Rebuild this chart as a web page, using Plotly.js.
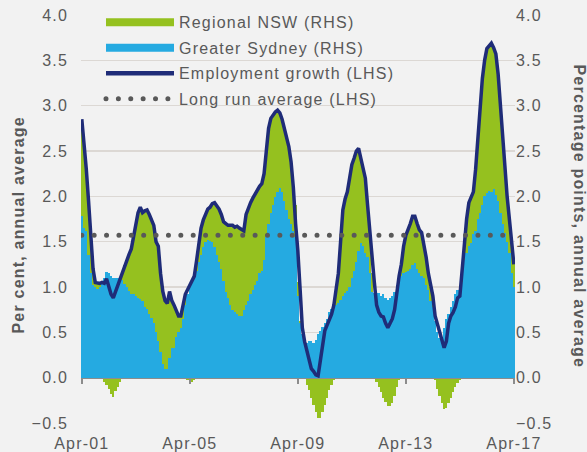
<!DOCTYPE html>
<html><head><meta charset="utf-8">
<script src="https://cdn.plot.ly/plotly-3.0.1.min.js"></script>
<style>
html,body{margin:0;padding:0;background:#f2f2f2;}
#chart{width:587px;height:452px;}
text{letter-spacing:1.2px;}
</style></head><body><div id="chart"></div>
<script>
// Monthly series, Apr-2001 .. Apr-2017
const sydney = [
1.78,1.65,1.62,1.35,1.15,1.02,1.00,0.98,1.00,1.07,1.10,1.17,1.15,1.12,1.10,1.10,1.10,1.10,1.08,1.03,
1.00,0.96,0.92,0.92,0.90,0.88,0.87,0.85,0.78,0.76,0.70,0.66,0.60,0.50,0.40,0.28,0.15,0.10,0.10,0.22,
0.33,0.33,0.45,0.50,0.55,0.65,0.80,0.92,1.00,1.05,1.10,1.18,1.28,1.35,1.44,1.50,1.52,1.51,1.50,1.44,
1.35,1.28,1.20,1.07,0.95,0.88,0.80,0.75,0.72,0.70,0.68,0.68,0.75,0.80,0.85,0.92,0.97,1.02,1.07,1.15,
1.18,1.30,1.55,1.70,1.82,1.90,1.99,2.05,2.09,2.05,1.95,1.85,1.75,1.70,1.62,1.55,0.90,0.60,0.48,0.42,
0.38,0.40,0.40,0.38,0.42,0.48,0.52,0.56,0.60,0.65,0.72,0.76,0.78,0.80,0.82,0.86,0.90,0.93,0.96,1.00,
1.10,1.18,1.28,1.40,1.48,1.45,1.38,1.33,1.15,0.95,0.93,0.93,0.93,0.90,0.92,0.88,0.86,0.88,0.90,0.95,
1.02,1.08,1.12,1.15,1.16,1.18,1.20,1.24,1.26,1.20,1.15,1.12,1.10,1.02,0.97,0.85,0.78,0.62,0.50,0.44,
0.45,0.55,0.65,0.70,0.78,0.85,0.92,0.97,0.95,1.05,1.30,1.38,1.45,1.48,1.58,1.62,1.75,1.82,1.90,2.00,
2.04,2.06,2.05,2.08,2.02,1.95,1.82,1.70,1.60,1.50,1.38,1.15,1.00
];
const regional = [
1.04,0.95,0.68,0.60,0.40,0.18,0.05,0.06,0.04,-0.02,-0.05,-0.08,-0.12,-0.18,-0.21,-0.15,-0.10,-0.05,0.08,0.21,
0.30,0.40,0.50,0.63,0.80,0.94,1.01,0.97,1.06,1.09,1.10,1.09,1.08,1.00,1.05,0.87,0.80,0.75,0.72,0.73,
0.52,0.47,0.30,0.18,0.13,0.15,0.10,-0.03,-0.05,-0.05,-0.03,0.08,0.22,0.30,0.30,0.30,0.34,0.37,0.42,0.49,
0.55,0.58,0.60,0.65,0.75,0.80,0.88,0.93,0.94,0.97,0.97,0.95,0.87,1.00,1.02,1.01,1.01,1.01,1.00,0.96,
0.96,0.95,0.95,1.05,1.04,1.00,0.94,0.90,0.83,0.80,0.80,0.80,0.80,0.68,0.48,0.35,0.15,0.02,0.00,-0.02,
-0.08,-0.14,-0.22,-0.30,-0.38,-0.44,-0.44,-0.38,-0.30,-0.22,-0.14,-0.08,-0.03,0.20,0.33,0.64,0.95,1.04,1.09,1.20,
1.25,1.24,1.22,1.13,0.94,0.85,0.82,0.57,0.40,0.20,0.00,-0.05,-0.10,-0.16,-0.22,-0.27,-0.31,-0.31,-0.28,-0.20,
-0.10,-0.03,0.13,0.30,0.41,0.45,0.50,0.54,0.52,0.50,0.48,0.48,0.38,0.31,0.18,0.15,0.10,-0.03,-0.12,-0.20,
-0.28,-0.35,-0.33,-0.28,-0.22,-0.16,-0.10,-0.06,-0.03,0.05,0.20,0.37,0.48,0.50,0.47,0.68,0.90,1.23,1.40,1.50,
1.59,1.60,1.64,1.56,1.55,1.40,1.18,1.00,0.76,0.50,0.37,0.35,0.25
];
const employment = [
2.85,2.60,2.30,1.95,1.55,1.20,1.05,1.04,1.04,1.05,1.04,1.09,1.00,0.92,0.88,0.95,1.02,1.10,1.16,1.24,
1.30,1.36,1.42,1.55,1.70,1.82,1.88,1.82,1.84,1.85,1.80,1.75,1.68,1.50,1.45,1.15,0.95,0.85,0.82,0.95,
0.85,0.80,0.75,0.68,0.68,0.80,0.92,0.97,1.02,1.05,1.12,1.29,1.50,1.65,1.74,1.80,1.86,1.88,1.92,1.93,
1.90,1.86,1.80,1.72,1.70,1.68,1.68,1.68,1.66,1.67,1.65,1.63,1.62,1.80,1.87,1.93,1.98,2.03,2.07,2.11,
2.14,2.25,2.50,2.75,2.86,2.90,2.93,2.95,2.92,2.85,2.75,2.65,2.55,2.38,2.10,1.70,1.40,0.98,0.55,0.40,
0.30,0.20,0.10,0.07,0.03,0.02,0.20,0.40,0.52,0.58,0.65,0.70,0.80,1.00,1.15,1.50,1.85,1.97,2.05,2.20,
2.35,2.42,2.50,2.53,2.42,2.30,2.20,1.90,1.59,1.35,1.05,0.80,0.72,0.68,0.67,0.60,0.55,0.60,0.65,0.75,
0.95,1.12,1.25,1.45,1.57,1.63,1.70,1.78,1.78,1.70,1.63,1.60,1.48,1.33,1.15,1.00,0.90,0.68,0.60,0.52,
0.42,0.33,0.40,0.60,0.68,0.72,0.78,0.88,0.90,1.20,1.50,1.75,1.93,1.98,2.05,2.30,2.65,3.05,3.30,3.50,
3.63,3.66,3.69,3.64,3.57,3.35,3.00,2.70,2.36,2.00,1.75,1.50,1.25
];
const longRunAverage = 1.57;
const tickLabels = ['Apr-01','Apr-05','Apr-09','Apr-13','Apr-17'];
const tickMonthIndex = [0,48,96,144,192];
const leftTitle = 'Per cent, annual average';
const rightTitle = 'Percentage points, annual average';

const monthIndex = sydney.map((_, i) => i);
const lastIndex = monthIndex[monthIndex.length - 1];

const GREEN = '#95c11f', BLUE = '#25aae1', NAVY = '#1f2c78', DOTS = '#595959';
const TXT = '#595959', FONT = 'Liberation Sans, Arial, sans-serif';

const traces = [
  {type:'bar', x:monthIndex, y:sydney, marker:{color:BLUE, line:{width:0}}, showlegend:false, hoverinfo:'skip'},
  {type:'bar', x:monthIndex, y:regional, marker:{color:GREEN, line:{width:0}}, showlegend:false, hoverinfo:'skip'},
  {type:'scatter', mode:'lines', x:monthIndex, y:employment, line:{color:NAVY, width:3.5}, showlegend:false, hoverinfo:'skip'},
  {type:'scatter', mode:'lines', x:[null], y:[null], name:'Regional NSW (RHS)', line:{color:GREEN, width:8}, legendgroup:'a'},
  {type:'scatter', mode:'lines', x:[null], y:[null], name:'Greater Sydney (RHS)', line:{color:BLUE, width:8}, legendgroup:'b'},
  {type:'scatter', mode:'lines', x:[null], y:[null], name:'Employment growth (LHS)', line:{color:NAVY, width:4.5}, legendgroup:'c'},
  {type:'scatter', mode:'lines', x:[monthIndex[0], lastIndex], y:[longRunAverage, longRunAverage], xaxis:'x2', yaxis:'y2',
   name:'Long run average (LHS)', line:{color:DOTS, width:5, dash:'0px,12.38px'}, legendgroup:'d', hoverinfo:'skip'}
];

const xr = [-0.35, 192.5], yr = [-0.5, 4.0];
const titleFont = {family:FONT, size:16, color:TXT, weight:'bold'};
const layout = {
  width:587, height:452,
  paper_bgcolor:'#f2f2f2', plot_bgcolor:'#f2f2f2',
  margin:{l:81, r:72, t:15, b:29},
  barmode:'relative', bargap:0,
  font:{family:FONT, size:16, color:TXT},
  showlegend:true,
  legend:{x:0.046, y:0.99, xanchor:'left', yanchor:'top', bgcolor:'rgba(0,0,0,0)',
          font:{family:FONT, size:16, color:TXT}, itemwidth:68, tracegroupgap:1.7},
  xaxis:{range:xr, tickmode:'array', tickvals:tickMonthIndex, ticktext:tickLabels,
         ticks:'', showgrid:false, zeroline:false, showline:false, ticklabelstandoff:9,
         tickfont:{family:FONT, size:16, color:TXT}, fixedrange:true},
  xaxis2:{range:xr, overlaying:'x', anchor:'free', position:0.5/4.5, tickmode:'array', tickvals:tickMonthIndex,
          ticks:'outside', ticklen:5, tickwidth:1.5, tickcolor:'#8c8c8c', showticklabels:false,
          showline:true, linecolor:'#8c8c8c', linewidth:1.5, showgrid:false, zeroline:false, fixedrange:true},
  yaxis:{range:yr, dtick:0.5, tick0:0, tickformat:'.1f', ticks:'', showgrid:true, gridcolor:'#dcd8d4', gridwidth:1.3,
         zeroline:false, showline:false, ticklabelstandoff:12, fixedrange:true},
  yaxis2:{range:yr, dtick:0.5, tick0:0, tickformat:'.1f', overlaying:'y', side:'right', ticks:'', showgrid:false,
          zeroline:false, showline:false, ticklabelstandoff:15.5, fixedrange:true},
  annotations:[
    {text:leftTitle, xref:'paper', yref:'paper', x:-0.1440, y:0.4853, xanchor:'center', yanchor:'middle',
     textangle:-90, showarrow:false, font:titleFont},
    {text:rightTitle, xref:'paper', yref:'paper', x:1.1475, y:0.5061, xanchor:'center', yanchor:'middle',
     textangle:90, showarrow:false, font:titleFont}
  ]
};

Plotly.newPlot('chart', traces, layout, {displayModeBar:false, staticPlot:true}).then(() => {
  document.querySelectorAll('#chart path').forEach(p => {
    const s = p.getAttribute('style') || '';
    if (/stroke-dasharray:\s*0px/.test(s)) p.style.strokeLinecap = 'round';
  });
  const leg = document.querySelector('#chart g.legend');
  if (leg) {
    leg.querySelectorAll('[clip-path]').forEach(e => e.removeAttribute('clip-path'));
    leg.querySelectorAll('.legendsymbols').forEach(g => g.setAttribute('transform', 'translate(-2,1.9)'));
    const first = leg.querySelector('.legendtext');
    if (first) {
      const b = first.getBoundingClientRect();
      const m = /translate\(\s*([-\d.e]+)[ ,]+([-\d.e]+)\s*\)/.exec(leg.getAttribute('transform') || '');
      if (m) {
        const tx = parseFloat(m[1]) + (179 - b.left);
        const ty = parseFloat(m[2]) + (14.4 - b.top);
        leg.setAttribute('transform', 'translate(' + tx + ',' + ty + ')');
      }
    }
  }
});
</script></body></html>
